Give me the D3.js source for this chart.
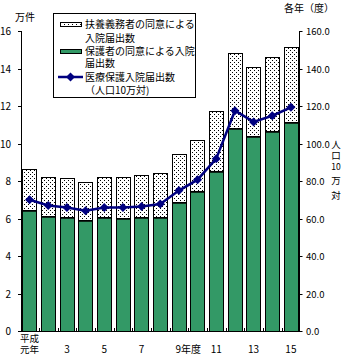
<!DOCTYPE html>
<html><head><meta charset="utf-8">
<script src="https://cdn.jsdelivr.net/npm/d3@7"></script>
<style>
body{margin:0;background:#fff}
svg{display:block}
text{font-family:"Noto Sans CJK JP","Noto Sans",sans-serif;fill:#000;font-size:10px}
</style>
</head><body><svg id="c" width="342" height="354"></svg>
<script>
const years = ["平成元年","2","3","4","5","6","7","8","9年度","10","11","12","13","14","15"];
const tickLabels = ["平成元年","","3","","5","","7","","9年度","","11","","13","","15"];
const consentGuardian = [6.46,6.14,6.07,5.93,6.07,6.04,6.07,6.10,6.88,7.48,8.56,10.83,10.38,10.68,11.15];
const consentSupport = [2.19,2.10,2.09,2.01,2.14,2.17,2.25,2.32,2.57,2.69,3.19,4.00,3.69,3.94,4.00];
const ratePer100k = [70.0,66.9,65.9,64.1,65.9,65.9,66.4,67.7,74.9,80.7,91.9,117.5,111.5,114.8,119.3];
const leftTicks = [0,2,4,6,8,10,12,14,16];
const rightTicks = [0,20,40,60,80,100,120,140,160];
const legendLabels = [["扶養義務者の同意による","入院届出数"],["保護者の同意による入院","届出数"],["医療保護入院届出数","（人口10万対)"]];

const GREEN = "#339966", NAVY = "#000080";
const svg = d3.select("#c");
const defs = svg.append("defs");
const pat = defs.append("pattern").attr("id","dots").attr("patternUnits","userSpaceOnUse")
  .attr("width",4).attr("height",4);
pat.append("rect").attr("width",4).attr("height",4).attr("fill","#fff");
pat.append("rect").attr("x",0).attr("y",0).attr("width",1).attr("height",1).attr("fill","#000");
pat.append("rect").attr("x",2).attr("y",2).attr("width",1).attr("height",1).attr("fill","#000");

const L = 21, R = 299.5, T = 31, B = 331;
const x = d3.scaleBand().domain(years).range([L,R]).paddingInner(0.22).paddingOuter(0.07);
const y = d3.scaleLinear().domain([0,16]).range([B,T]);
const y2 = d3.scaleLinear().domain([0,160]).range([B,T]);

// bars
const g = svg.append("g");
years.forEach((yr,i)=>{
  const x0 = Math.round(x(yr))+0.5, w = Math.round(x.bandwidth())-1;
  const gTop = y(consentGuardian[i]);
  const tTop = y(consentGuardian[i]+consentSupport[i]);
  g.append("rect").attr("x",x0).attr("y",Math.round(tTop)+0.5).attr("width",w)
    .attr("height",Math.round(gTop)-Math.round(tTop)).attr("fill","url(#dots)").attr("stroke","#000");
  g.append("rect").attr("x",x0).attr("y",Math.round(gTop)+0.5).attr("width",w)
    .attr("height",B-Math.round(gTop)).attr("fill",GREEN).attr("stroke","#000");
  g.append("line").attr("x1",x0).attr("x2",x0+w).attr("y1",Math.round(gTop)+1).attr("y2",Math.round(gTop)+1)
    .attr("stroke","#000").attr("stroke-width",1.5);
});

// axes
svg.append("line").attr("x1",L).attr("x2",R).attr("y1",B+0.5).attr("y2",B+0.5).attr("stroke","#000");
svg.append("line").attr("x1",L+0.5).attr("x2",L+0.5).attr("y1",T).attr("y2",B+1).attr("stroke","#000");
svg.append("line").attr("x1",R).attr("x2",R).attr("y1",T).attr("y2",B+1).attr("stroke","#000");
leftTicks.forEach(t=>{
  const yy = Math.round(y(t))+0.5;
  svg.append("line").attr("x1",L-3).attr("x2",L).attr("y1",yy).attr("y2",yy).attr("stroke","#000");
  svg.append("text").attr("x",11).attr("y",yy).attr("dy","0.35em").attr("text-anchor","end").text(t);
});
rightTicks.forEach(t=>{
  const yy = Math.round(y2(t))+0.5;
  svg.append("line").attr("x1",R).attr("x2",R+3).attr("y1",yy).attr("y2",yy).attr("stroke","#000");
  svg.append("text").attr("x",306).attr("y",yy).attr("dy","0.35em").style("font-size","9.5px").text(t.toFixed(1));
});
// category boundary ticks
for (let i=1;i<years.length;i++){
  const xx = Math.round(x(years[i]) - x.step()*x.paddingInner()/2)+0.5;
  svg.append("line").attr("x1",xx).attr("x2",xx).attr("y1",B-3).attr("y2",B).attr("stroke","#000");
}
// x labels
tickLabels.forEach((lab,i)=>{
  if(!lab) return;
  const cx = x(years[i]) + x.bandwidth()/2;
  if (lab === "平成元年"){
    const t = svg.append("text").attr("text-anchor","middle").style("font-size","9.5px");
    t.append("tspan").attr("x",cx).attr("y",341.5).text("平成");
    t.append("tspan").attr("x",cx).attr("y",352.5).text("元年");
  } else if (lab === "9年度"){
    svg.append("text").attr("x",cx-3.5).attr("y",349).attr("dy","0.35em").attr("text-anchor","start").text(lab);
  } else {
    svg.append("text").attr("x",cx).attr("y",349).attr("dy","0.35em").attr("text-anchor","middle").text(lab);
  }
});

// line
const diamond = (cx,cy,r)=>`M${cx},${cy-r}L${cx+r},${cy}L${cx},${cy+r}L${cx-r},${cy}Z`;
const line = d3.line().x((d,i)=>x(years[i])+x.bandwidth()/2).y(d=>y2(d));
svg.append("path").datum(ratePer100k).attr("d",line).attr("fill","none").attr("stroke",NAVY).attr("stroke-width",2.5);
ratePer100k.forEach((v,i)=>{
  svg.append("path").attr("d",diamond(x(years[i])+x.bandwidth()/2,y2(v),4.5)).attr("fill",NAVY);
});

// titles
svg.append("text").attr("x",15).attr("y",17).attr("dy","0.35em").text("万件");
svg.append("text").attr("x",284).attr("y",8).attr("dy","0.35em").text("各年（度）");
const vt = ["人","口","10","万","対"], vy=[144,155,166,180,195];
const vtext = svg.append("text").attr("text-anchor","middle").style("font-size","9.5px");
vt.forEach((c,i)=>vtext.append("tspan").attr("x",336).attr("y",vy[i]+3.5)
  .style("font-size", c==="10" ? "8.5px" : "9.5px").text(c));

// legend
const lg = svg.append("g");
lg.append("rect").attr("x",53.5).attr("y",13.5).attr("width",142).attr("height",84).attr("fill","#fff").attr("stroke","#000");
const rowsY = [[24,38],[51,63],[77,90]];
lg.append("rect").attr("x",60.5).attr("y",22.5).attr("width",21).attr("height",4).attr("fill","url(#dots)").attr("stroke","#000");
lg.append("rect").attr("x",60.5).attr("y",49.5).attr("width",21).attr("height",4).attr("fill",GREEN).attr("stroke","#000");
lg.append("line").attr("x1",58).attr("x2",83).attr("y1",77).attr("y2",77).attr("stroke",NAVY).attr("stroke-width",2.5);
lg.append("path").attr("d",diamond(70.5,77,4.5)).attr("fill",NAVY);
legendLabels.forEach((ls,i)=>{
  const t = lg.append("text");
  ls.forEach((s,j)=>t.append("tspan").attr("x",85).attr("y",rowsY[i][j]+3.5).text(s));
});
</script>
</body></html>
